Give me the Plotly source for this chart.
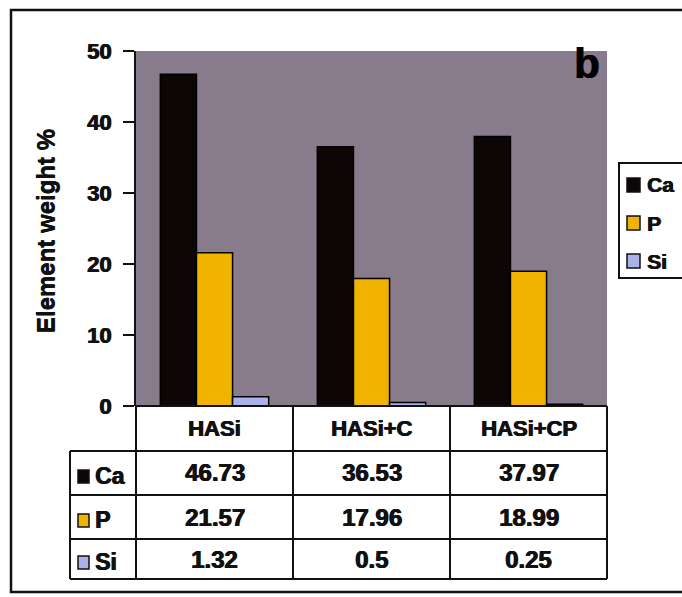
import plotly.graph_objects as go

# Samples and element weight percentages
samples = ["HASi", "HASi+C", "HASi+CP"]
ca_values = [46.73, 36.53, 37.97]
p_values = [21.57, 17.96, 18.99]
si_values = [1.32, 0.5, 0.25]
elements = ["Ca", "P", "Si"]
y_ticks = [0, 10, 20, 30, 40, 50]

colors = {"Ca": "#0c0606", "P": "#f0b400", "Si": "#a9b3ea"}
series = {"Ca": ca_values, "P": p_values, "Si": si_values}

W, H = 682, 597
FONT = "Liberation Sans, Arial, sans-serif"
INK = "#111111"
# slight horizontal shadow to give the labels a heavier weight
HEAVY = "0.7px 0 0 #111111, -0.3px 0 0 #111111"


def px_x(x):
    return x / W


def px_y(y):
    return 1 - y / H


# Plot area edges (pixels)
PL, PR, PT, PB = 136, 607, 51, 406
# Table geometry (pixels)
TL = 70
row_edges = [406, 451, 495, 539, 579]

fig = go.Figure()
for el in elements:
    fig.add_trace(go.Bar(
        x=samples, y=series[el], name=el, showlegend=False,
        marker=dict(color=colors[el], line=dict(color="#000000", width=1.5)),
    ))

shapes = []
annotations = []


def text(x, y, s, size, xanchor="center"):
    annotations.append(dict(x=px_x(x), y=px_y(y), xref="paper", yref="paper",
                            xanchor=xanchor, yanchor="middle", text=f"<b>{s}</b>",
                            showarrow=False,
                            font=dict(family=FONT, size=size, color=INK, shadow=HEAVY)))


# Table grid lines
line = dict(color=INK, width=2)
for i, ry in enumerate(row_edges):
    x0 = PL if i == 0 else TL
    shapes.append(dict(type="line", xref="paper", yref="paper",
                       x0=px_x(x0), x1=px_x(PR), y0=px_y(ry), y1=px_y(ry), line=line))
col_w = (PR - PL) / len(samples)
for k in range(len(samples) + 1):
    xx = PL + k * col_w
    shapes.append(dict(type="line", xref="paper", yref="paper",
                       x0=px_x(xx), x1=px_x(xx), y0=px_y(row_edges[0]), y1=px_y(row_edges[-1]),
                       line=line))
shapes.append(dict(type="line", xref="paper", yref="paper",
                   x0=px_x(TL), x1=px_x(TL), y0=px_y(row_edges[1]), y1=px_y(row_edges[-1]),
                   line=line))

# Header row: sample names
hdr_y = (row_edges[0] + row_edges[1]) / 2
for k, s in enumerate(samples):
    text(PL + (k + 0.5) * col_w, hdr_y, s, 22)

# Data rows with key swatches
for r, el in enumerate(elements):
    cy = (row_edges[r + 1] + row_edges[r + 2]) / 2
    shapes.append(dict(type="rect", xref="paper", yref="paper",
                       x0=px_x(78), x1=px_x(89), y0=px_y(cy + 10), y1=px_y(cy - 3),
                       fillcolor=colors[el], line=dict(color=INK, width=1.5)))
    text(93, cy + 3, el, 23, xanchor="left")
    for k, v in enumerate(series[el]):
        text(PL + (k + 0.5) * col_w, cy, f"{v:g}", 24)

# Legend box
shapes.append(dict(type="rect", xref="paper", yref="paper",
                   x0=px_x(619), x1=px_x(700), y0=px_y(278), y1=px_y(163),
                   fillcolor="#ffffff", line=dict(color=INK, width=2)))
for r, el in enumerate(elements):
    ly = 185 + r * 38
    shapes.append(dict(type="rect", xref="paper", yref="paper",
                       x0=px_x(627), x1=px_x(640), y0=px_y(ly + 7), y1=px_y(ly - 7),
                       fillcolor=colors[el], line=dict(color=INK, width=1.5)))
    text(645, ly, el, 21, xanchor="left")

# Axis title
annotations.append(dict(x=px_x(45), y=px_y(231), xref="paper", yref="paper",
                        xanchor="center", yanchor="middle", textangle=-90,
                        text="<b>Element weight %</b>", showarrow=False,
                        font=dict(family=FONT, size=24, color=INK,
                                  shadow="0 0.7px 0 #111111, 0 -0.3px 0 #111111")))

# Panel letter
annotations.append(dict(x=px_x(602), y=px_y(64), xref="paper", yref="paper",
                        xanchor="right", yanchor="middle", text="<b>b</b>", showarrow=False,
                        font=dict(family=FONT, size=42, color="#000000", shadow=HEAVY)))

# Outer frame
shapes.append(dict(type="rect", xref="paper", yref="paper",
                   x0=px_x(11), x1=px_x(700), y0=px_y(592), y1=px_y(10),
                   line=dict(color=INK, width=2.5), layer="below"))

fig.update_layout(
    width=W, height=H,
    margin=dict(l=0, r=0, t=0, b=0, autoexpand=False),
    paper_bgcolor="#ffffff",
    plot_bgcolor="#877b8c",
    barmode="group",
    bargap=0.31,
    bargroupgap=0,
    showlegend=False,
    font=dict(family=FONT, color=INK),
    xaxis=dict(domain=[px_x(PL), px_x(PR)], showticklabels=False, ticks="",
               showgrid=False, zeroline=False, showline=False),
    yaxis=dict(domain=[px_y(PB), px_y(PT)], range=[0, 50], tickvals=y_ticks,
               ticktext=[f"<b>{t}</b>" for t in y_ticks],
               tickfont=dict(family=FONT, size=22, color=INK, shadow=HEAVY),
               ticks="outside", ticklen=11, tickwidth=2, tickcolor=INK,
               ticklabelstandoff=7,
               showline=True, linecolor=INK, linewidth=2,
               showgrid=False, zeroline=False),
    shapes=shapes,
    annotations=annotations,
)

fig.write_html("out.html")
